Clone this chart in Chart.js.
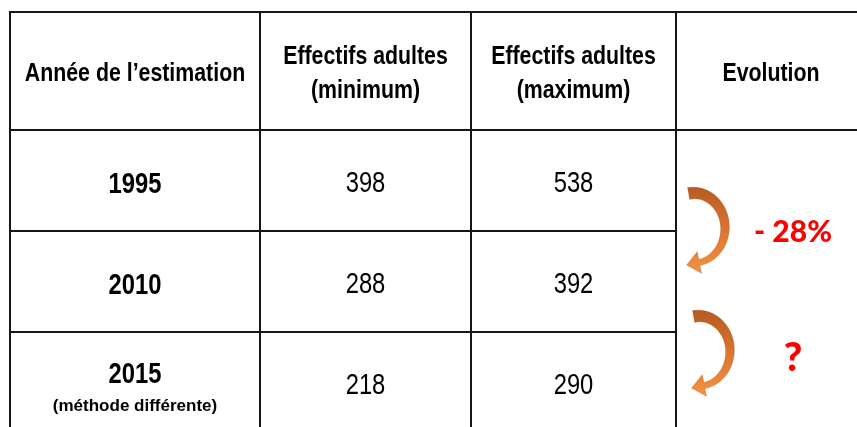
<!DOCTYPE html>
<html>
<head>
<meta charset="utf-8">
<script src="https://cdn.jsdelivr.net/npm/chart.js@4"></script>
<style>
  html, body { margin: 0; padding: 0; background: #fff; }
  #wrap { width: 857px; height: 427px; position: relative; }
</style>
</head>
<body>
<div id="wrap"><canvas id="table"></canvas></div>
<script>
// table content
const headers = [['Année de l’estimation'], ['Effectifs adultes', '(minimum)'], ['Effectifs adultes', '(maximum)'], ['Evolution']];
const years = ['1995', '2010', '2015'];
const yearNotes = ['', '', '(méthode différente)'];
const minCounts = [398, 288, 218];
const maxCounts = [538, 392, 290];
const evolution = ['- 28%', '?'];

// layout (px units of the scales)
const colWidths = [250, 211, 205, 190];
const rowHeights = [118, 101, 101, 101];
const lineColor = '#161616';
const narrow = 0.82;
const labelSizes = [30, 40];

const edges = sizes => sizes.reduce((acc, s) => { acc.push(acc[acc.length - 1] + s); return acc; }, [0]);
const colEdges = edges(colWidths);
const rowEdges = edges(rowHeights);
const colMid = i => colEdges[i] + colWidths[i] / 2;
const rowMid = j => rowEdges[j] + rowHeights[j] / 2;

const drawText = (ctx, txt, x, y, font, color, sx) => {
    ctx.save();
    ctx.font = font;
    ctx.fillStyle = color;
    ctx.textAlign = 'center';
    ctx.textBaseline = 'middle';
    ctx.translate(x, y);
    ctx.scale(sx, 1);
    ctx.fillText(txt, 0, 0);
    ctx.restore();
};

// curved arrow, like the office shape
const drawArrow = (ctx, x0, yMid) => {
    const cx = x0 + 8, cy = yMid, rx = 31, ry = 35;
    const a0 = -100 * Math.PI / 180, a1 = 80 * Math.PI / 180;
    const steps = 40;
    const width = t => 12 - 6 * t;
    const outer = [], inner = [];
    for (let k = 0; k <= steps; k++) {
        const t = k / steps;
        const a = a0 + (a1 - a0) * t;
        const w = width(t) / 2;
        outer.push([cx + (rx + w) * Math.cos(a), cy + (ry + w) * Math.sin(a)]);
        inner.push([cx + (rx - w) * Math.cos(a), cy + (ry - w) * Math.sin(a)]);
    }
    const px = cx + rx * Math.cos(a1), py = cy + ry * Math.sin(a1);
    let tx = -rx * Math.sin(a1), ty = ry * Math.cos(a1);
    const tl = Math.hypot(tx, ty); tx /= tl; ty /= tl;
    const nx = ty, ny = -tx;
    const g = ctx.createLinearGradient(0, yMid - 42, 0, yMid + 42);
    g.addColorStop(0, '#B65A22');
    g.addColorStop(0.5, '#D9742F');
    g.addColorStop(1, '#F3903F');
    ctx.save();
    ctx.beginPath();
    outer.forEach(([x, y], k) => k ? ctx.lineTo(x, y) : ctx.moveTo(x, y));
    ctx.lineTo(px + nx * 11, py + ny * 11);
    ctx.lineTo(px + tx * 13, py + ty * 13);
    ctx.lineTo(px - nx * 11, py - ny * 11);
    for (let k = inner.length - 1; k >= 0; k--) ctx.lineTo(inner[k][0], inner[k][1]);
    ctx.closePath();
    ctx.fillStyle = g;
    ctx.fill();
    ctx.strokeStyle = 'rgba(150,70,20,0.35)';
    ctx.lineWidth = 0.8;
    ctx.stroke();
    ctx.restore();
};

const tablePlugin = {
    id: 'tableText',
    beforeDatasetsDraw(chart) {
        // row separators stop at the merged Evolution column
        const { ctx, scales: { x, y } } = chart;
        ctx.save();
        ctx.strokeStyle = lineColor;
        ctx.lineWidth = 2;
        rowEdges.slice(2, 4).forEach(v => {
            const py = Math.round(y.getPixelForValue(v));
            ctx.beginPath();
            ctx.moveTo(x.getPixelForValue(0), py);
            ctx.lineTo(x.getPixelForValue(colEdges[3]) + 1, py);
            ctx.stroke();
        });
        ctx.restore();
    },
    afterDraw(chart) {
        const { ctx, scales: { x, y } } = chart;
        const X = v => x.getPixelForValue(v);
        const Y = v => y.getPixelForValue(v);
        const hFont = 'bold 26px "Liberation Sans", Arial, sans-serif';
        const nFont = '29px "Liberation Sans", Arial, sans-serif';
        const bFont = 'bold 29px "Liberation Sans", Arial, sans-serif';

        headers.forEach((lines, i) => {
            const gap = 34;
            const start = rowMid(0) + 3 - (lines.length - 1) * gap / 2;
            lines.forEach((l, k) => drawText(ctx, l, X(colMid(i)), Y(start + k * gap), hFont, '#000', narrow));
        });

        years.forEach((yr, j) => {
            const r = j + 1;
            const note = yearNotes[j];
            if (note) {
                drawText(ctx, yr, X(colMid(0)), Y(rowMid(r) - 8), bFont, '#000', narrow);
                drawText(ctx, note, X(colMid(0)), Y(rowMid(r) + 24), 'bold 17px "Liberation Sans", Arial, sans-serif', '#000', 1);
            } else {
                drawText(ctx, yr, X(colMid(0)), Y(rowMid(r) + 4), bFont, '#000', narrow);
            }
            drawText(ctx, String(minCounts[j]), X(colMid(1)), Y(rowMid(r) + 3), nFont, '#000', narrow);
            drawText(ctx, String(maxCounts[j]), X(colMid(2)), Y(rowMid(r) + 3), nFont, '#000', narrow);
        });

        // arrows and evolution labels between the rows
        const arrowMids = [rowEdges[2] - 3, rowEdges[3] + 19];
        const labelMids = [rowEdges[2] + 1, rowEdges[3] + 26];
        evolution.forEach((lab, k) => {
            drawArrow(ctx, X(colEdges[3] + 10 + k * 5), Y(arrowMids[k]));
            drawText(ctx, lab, X(colMid(3) + 22), Y(labelMids[k]), `900 ${labelSizes[k]}px Lato, "Open Sans", sans-serif`, '#FF0000', 1);
        });
    }
};

const axisCommon = {
    type: 'linear',
    ticks: { display: false },
    grid: { color: lineColor, lineWidth: 2, drawTicks: false },
    border: { display: true, color: lineColor, width: 2 }
};

new Chart(document.getElementById('table'), {
    type: 'scatter',
    data: { datasets: [] },
    options: {
        responsive: true,
        maintainAspectRatio: false,
        animation: false,
        layout: { padding: { left: 10, top: 12, right: 0, bottom: 0 } },
        plugins: { legend: { display: false }, tooltip: { enabled: false } },
        scales: {
            x: {
                ...axisCommon,
                position: 'top',
                min: 0,
                max: 847,
                afterBuildTicks: s => { s.ticks = colEdges.slice(0, 4).map(v => ({ value: v })); },
                afterFit: s => { s.height = 0; }
            },
            y: {
                ...axisCommon,
                position: 'left',
                reverse: true,
                min: 0,
                max: 415,
                afterBuildTicks: s => { s.ticks = rowEdges.slice(0, 2).map(v => ({ value: v })); },
                afterFit: s => { s.width = 0; }
            }
        }
    },
    plugins: [tablePlugin]
});
</script>
</body>
</html>
